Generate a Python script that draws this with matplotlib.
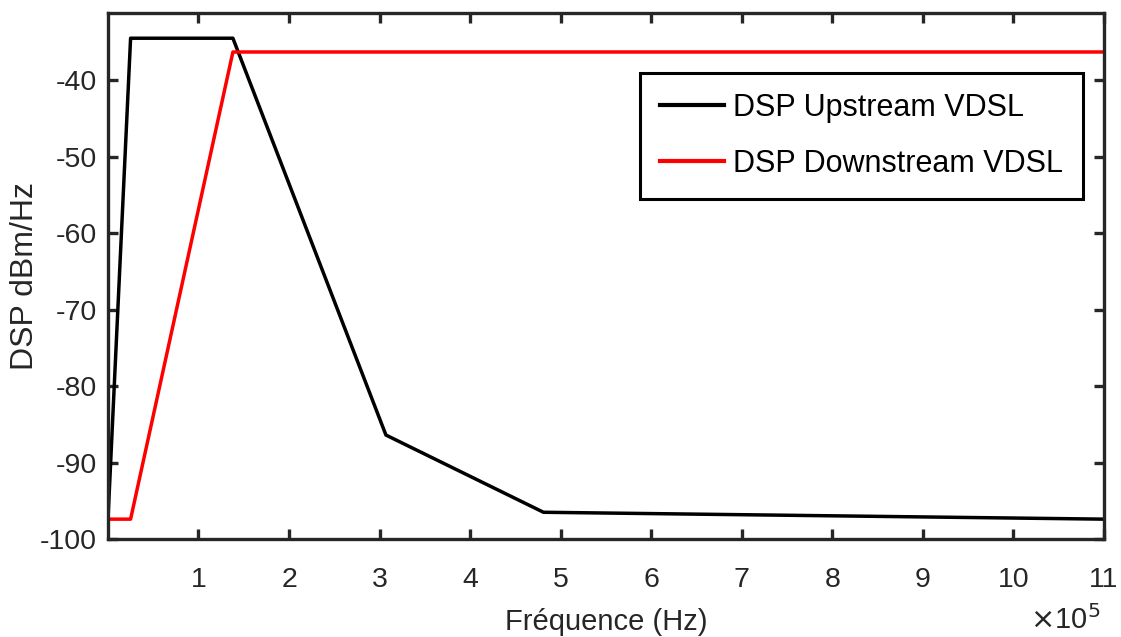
import numpy as np
import matplotlib
matplotlib.use("Agg")
import matplotlib.pyplot as plt
from matplotlib.ticker import FuncFormatter

# valeurs (Hz, dBm/Hz)
f_up = [0, 0.25e5, 1.38e5, 3.07e5, 4.81e5, 11e5]
dsp_up = [-97.5, -34.5, -34.5, -86.4, -96.5, -97.4]

f_down = [0, 0.25e5, 1.38e5, 11e5]
dsp_down = [-97.4, -97.4, -36.3, -36.3]

xticks = [1e5, 2e5, 3e5, 4e5, 5e5, 6e5, 7e5, 8e5, 9e5, 10e5, 11e5]
yticks = [-100, -90, -80, -70, -60, -50, -40]

plt.rcParams['font.family'] = ['Liberation Sans Narrow', 'Liberation Sans', 'DejaVu Sans']
plt.rcParams['axes.unicode_minus'] = False
axc = '#262626'

fig = plt.figure(figsize=(11.21, 6.37), dpi=100)
ax = fig.add_axes([0.0963, 0.1538, 0.8885, 0.8258])

ax.plot(f_up, dsp_up, color='black', lw=2.5, label='DSP Upstream VDSL')
ax.plot(f_down, dsp_down, color='red', lw=2.5, label='DSP Downstream VDSL')

ax.set_xlim(0, 11e5)
ax.set_ylim(-100, -31.2)
ax.set_xticks(xticks)
ax.set_yticks(yticks)
ax.xaxis.set_major_formatter(FuncFormatter(lambda v, p: f'{v / 1e5:g}'))

for s in ax.spines.values():
    s.set_linewidth(2.4)
    s.set_color(axc)
ax.tick_params(direction='in', length=7, width=2.4, color=axc, labelcolor=axc,
               labelsize=20.5, top=True, right=True)
ax.tick_params(axis='x', pad=20)
ax.tick_params(axis='y', pad=8)

ax.set_xlabel('Fréquence (Hz)', fontsize=21, color=axc, labelpad=11)
ax.set_ylabel('DSP dBm/Hz', fontsize=23, color=axc)
ax.yaxis.set_label_coords(-0.068, 0.5)

fig.text(0.982, 0.003, r'$\times$10$^5$', fontsize=21, color=axc, ha='right', va='bottom')

leg = ax.legend(loc='upper right', bbox_to_anchor=(0.979, 0.886), fontsize=22,
                frameon=True, fancybox=False, edgecolor='black', handlelength=2.1,
                handletextpad=0.3, borderpad=0.65, labelspacing=0.85, borderaxespad=0)
leg.get_frame().set_linewidth(2.2)
leg.get_frame().set_alpha(1)
for h in leg.get_lines():
    h.set_linewidth(3)

fig.savefig('out.png', dpi=100)
